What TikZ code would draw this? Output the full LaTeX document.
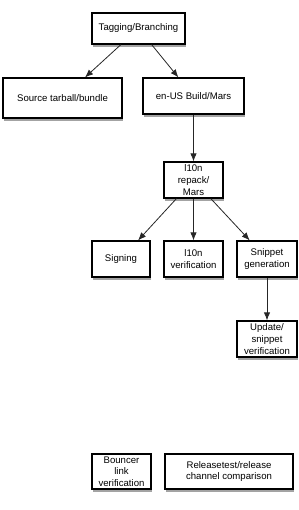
\documentclass[tikz,border=0pt]{standalone}
\usepackage{fontspec}
\setmainfont{Liberation Sans}
\usetikzlibrary{
  arrows.meta,
  shadows
}

\begin{document}
\begin{tikzpicture}[
  x=0.75pt, y=-0.75pt,
  block/.style={draw, fill=white, align=center, inner sep=1pt, line width=0.9pt,
    font=\fontsize{7.2}{8.7}\selectfont,
    drop shadow={shadow xshift=0.8pt, shadow yshift=-2pt, opacity=0.6, fill=black!60}},
  arrow/.style={-{Latex[length=6pt,width=4.8pt]}, line width=0.6pt, black!85}
]
\useasboundingbox (0,0) rectangle (298,510);

\node[block, minimum width=69.75pt, minimum height=23.25pt] (tag) at (138.5,28.5) {Tagging/Branching};
\node[block, minimum width=89.25pt, minimum height=30pt] (src) at (62.5,98) {Source tarball/bundle};
\node[block, minimum width=75.75pt, minimum height=27pt] (enus) at (193.5,96) {en-US Build/Mars};
\node[block, minimum width=44.25pt, minimum height=27pt] (repack) at (193.5,180) {l10n\\repack/\\Mars};
\node[block, minimum width=43.5pt, minimum height=27pt] (sign) at (121,259) {Signing};
\node[block, minimum width=44.25pt, minimum height=27pt] (l10nver) at (193.5,259) {l10n\\verification};
\node[block, minimum width=45pt, minimum height=27pt] (snip) at (267,259) {Snippet\\generation};
\node[block, minimum width=45pt, minimum height=27pt] (upd) at (267,339) {Update/\\snippet\\verification};
\node[block, minimum width=44.25pt, minimum height=26.25pt] (bouncer) at (121.5,471.5) {Bouncer\\link\\verification};
\node[block, minimum width=96pt, minimum height=26.25pt] (rel) at (229,471.5) {Releasetest/release\\channel comparison};

\draw[arrow] (tag) -- (src);
\draw[arrow] (tag) -- (enus);
\draw[arrow] (enus) -- (repack);
\draw[arrow] (repack) -- (sign);
\draw[arrow] (repack) -- (l10nver);
\draw[arrow] (repack) -- (snip);
\draw[arrow] (snip) -- (upd);
\end{tikzpicture}
\end{document}
